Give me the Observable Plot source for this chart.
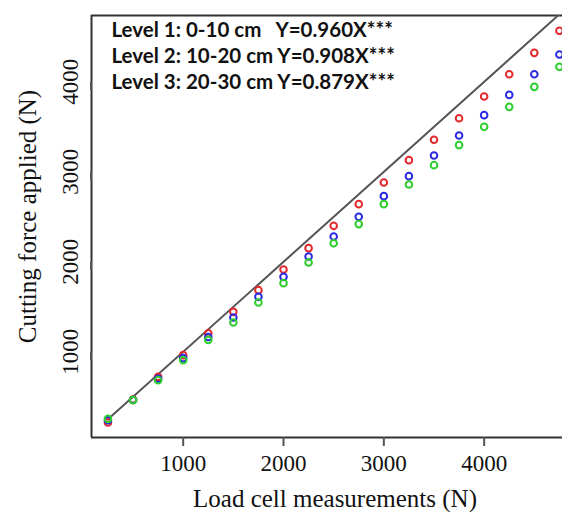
<!DOCTYPE html>
<html>
<head>
<meta charset="utf-8">
<script src="https://cdn.jsdelivr.net/npm/d3@7"></script>
<script src="https://cdn.jsdelivr.net/npm/@observablehq/plot@0.6"></script>
<style>
  html, body { margin: 0; padding: 0; background: #fff; }
  #wrap { position: relative; width: 562px; height: 512px; overflow: hidden; }
  .artifact-v { position: absolute; left: 81px; top: 14px; width: 2px; height: 450px; background: #dcdcdc; }
  .artifact-h { position: absolute; left: 42px; top: 463px; width: 40px; height: 2px; background: #dcdcdc; }
</style>
</head>
<body>
<div id="wrap"><div class="artifact-v"></div><div class="artifact-h"></div></div>
<script>
// ---- data ----
const loadCell = [250, 500, 750, 1000, 1250, 1500, 1750, 2000, 2250, 2500, 2750, 3000, 3250, 3500, 3750, 4000, 4250, 4500, 4750];
const level1 = [215, 470, 722, 963, 1207, 1444, 1685, 1915, 2152, 2400, 2641, 2881, 3130, 3356, 3596, 3837, 4085, 4322, 4567];
const level2 = [240, 465, 700, 930, 1165, 1381, 1611, 1833, 2059, 2281, 2500, 2730, 2952, 3181, 3404, 3630, 3855, 4085, 4303];
const level3 = [255, 463, 685, 908, 1133, 1326, 1548, 1763, 1993, 2207, 2419, 2641, 2859, 3074, 3297, 3500, 3722, 3944, 4167];
const seriesNames = ["Level 1", "Level 2", "Level 3"];
const seriesColors = ["#e4282c", "#2a2ae4", "#2ccf2c"];
const legendLabels = [
  "Level 1: 0-10 cm\u00a0\u00a0\u00a0Y=0.960X***",
  "Level 2: 10-20 cm Y=0.908X***",
  "Level 3: 20-30 cm Y=0.879X***"
];
const oneToOne = [250, 4750];
const xTicks = [1000, 2000, 3000, 4000];
const yTicks = [1000, 2000, 3000, 4000];
const xDomain = [86, 4781];
const yDomain = [48, 4737];
const xTitle = "Load cell measurements (N)";
const yTitle = "Cutting force applied (N)";

// ---- build table ----
const points = [];
[level1, level2, level3].forEach((vals, s) => {
  vals.forEach((v, i) => points.push({series: seriesNames[s], x: loadCell[i], y: v}));
});

const serif = "'Liberation Serif', 'Times New Roman', serif";
const axisColor = "#333";
const plain = d => String(d);

const chart = Plot.plot({
  width: 562,
  height: 512,
  marginLeft: 91,
  marginRight: 0,
  marginTop: 15,
  marginBottom: 75,
  style: {background: "#fff", overflow: "visible"},
  x: {domain: xDomain, ticks: xTicks},
  y: {domain: yDomain, ticks: yTicks},
  color: {domain: seriesNames, range: seriesColors},
  marks: [
    // frame: left, bottom, top
    Plot.ruleX([xDomain[0]], {stroke: axisColor, strokeWidth: 2}),
    Plot.ruleY([yDomain[0], yDomain[1]], {stroke: axisColor, strokeWidth: 2}),
    // 1:1 line
    Plot.line(oneToOne, {x: d => d, y: d => d, stroke: "#555", strokeWidth: 2, clip: true}),
    // points
    Plot.dot(points, {x: "x", y: "y", stroke: "series", r: 3.3, strokeWidth: 2, fill: "none"}),
    // axes
    Plot.axisX({ticks: xTicks, tickFormat: plain, tickSize: 9, tickPadding: 8.5, strokeWidth: 2, stroke: "#555",
      fontSize: 23, fontFamily: serif, fill: "#111", label: null}),
    Plot.axisY({ticks: yTicks, tickFormat: plain, tickSize: 8, tickPadding: 13, strokeWidth: 2, stroke: "#555",
      rotate: -90, textAnchor: "middle", lineAnchor: "middle",
      fontSize: 23, fontFamily: serif, fill: "#111", label: null}),
    // axis titles
    Plot.text([xTitle], {text: d => d, frameAnchor: "bottom", dx: 8, dy: 61, lineAnchor: "middle",
      fontSize: 25, fontFamily: serif, fill: "#111"}),
    Plot.text([yTitle], {text: d => d, frameAnchor: "left", dx: -64, dy: -10, rotate: -90,
      textAnchor: "middle", lineAnchor: "middle", fontSize: 25, fontFamily: serif, fill: "#111"}),
    // legend text
    Plot.text([legendLabels.join("\n")], {text: d => d, frameAnchor: "top-left", textAnchor: "start",
      lineAnchor: "top", lineHeight: 1.27, dx: 20, dy: 3, fontSize: 20.5, fontWeight: "bold",
      fontFamily: "Lato, 'Open Sans', sans-serif", fill: "#111"})
  ]
});
document.getElementById("wrap").appendChild(chart);
chart.style.position = "absolute";
chart.style.left = "0";
chart.style.top = "0";
</script>
</body>
</html>
